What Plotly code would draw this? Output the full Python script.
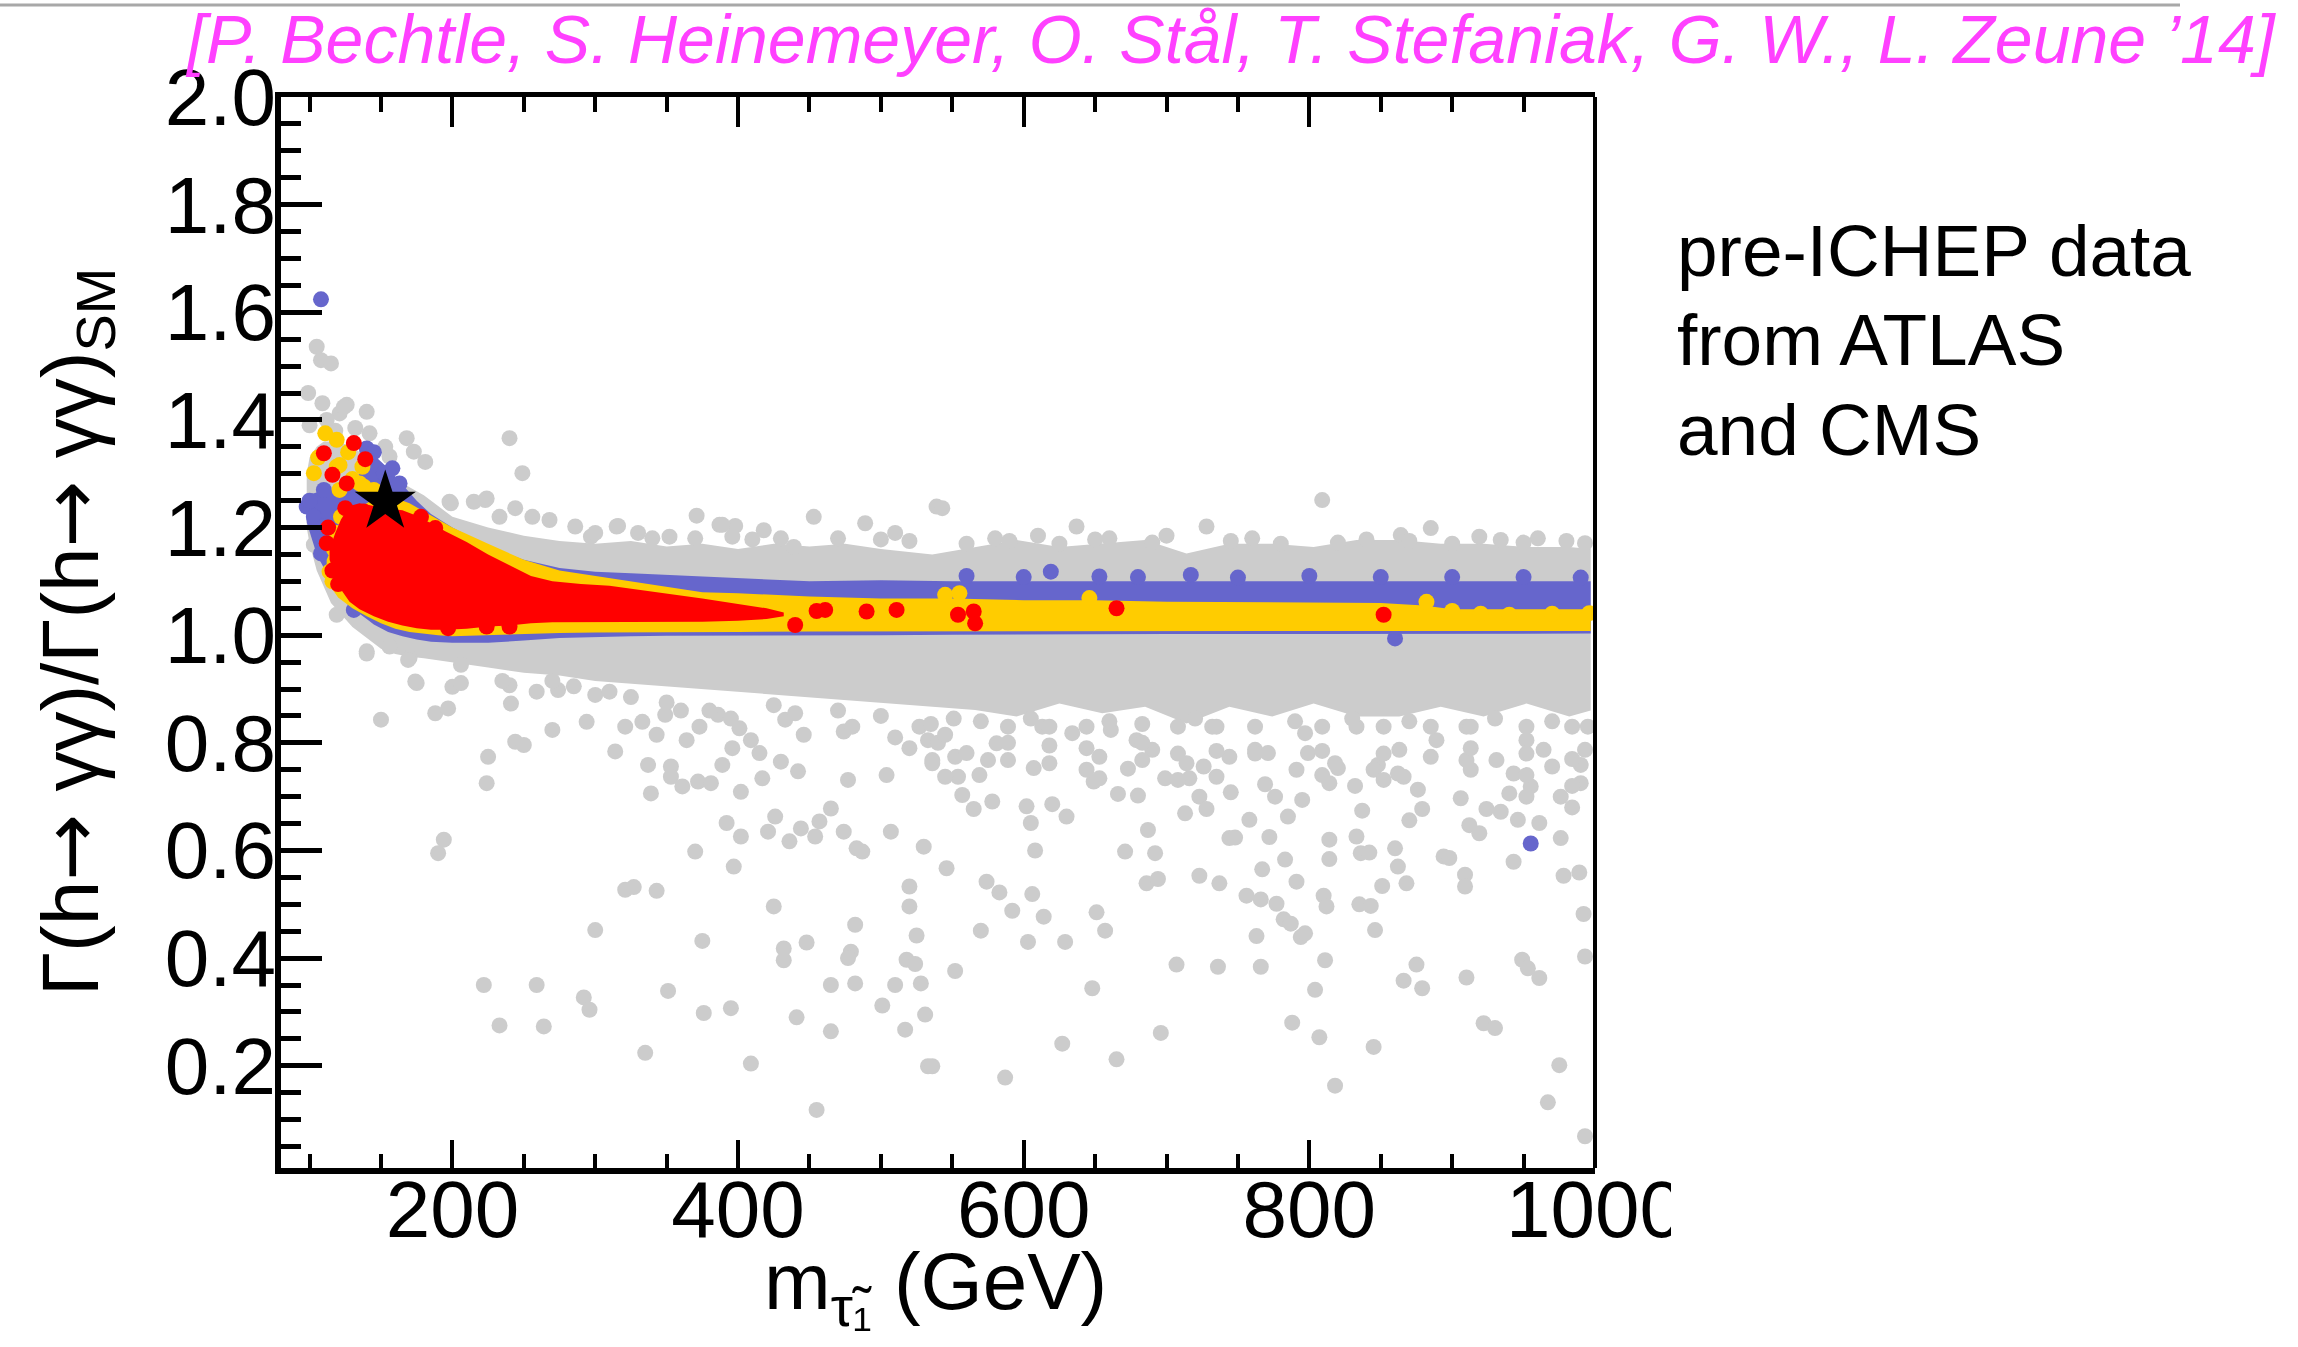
import plotly.graph_objects as go

W, H = 2298, 1347
L, R, T, B = 281, 1595, 97, 1168


def px(xp):
    return (xp - L) / (R - L)


def py(yp):
    return (B - yp) / (B - T)


# ---------------- axis ticks ----------------
x_ticks = [200, 400, 600, 800, 1000]
x_tick_labels = ["200", "400", "600", "800", "1000"]
x_minor = [100, 150, 250, 300, 350, 450, 500, 550, 650, 700, 750, 850, 900, 950]
y_ticks = [0.2, 0.4, 0.6, 0.8, 1.0, 1.2, 1.4, 1.6, 1.8, 2.0]
y_tick_labels = ["0.2", "0.4", "0.6", "0.8", "1.0", "1.2", "1.4", "1.6", "1.8", "2.0"]
y_minor = [0.05, 0.1, 0.15, 0.25, 0.3, 0.35, 0.45, 0.5, 0.55, 0.65, 0.7, 0.75,
           0.85, 0.9, 0.95, 1.05, 1.1, 1.15, 1.25, 1.3, 1.35, 1.45, 1.5, 1.55,
           1.65, 1.7, 1.75, 1.85, 1.9, 1.95]

# ---------------- dense regions (envelopes) ----------------
gray_band_x = [98, 100, 105, 110, 115, 120, 125, 130, 140, 150, 160, 170, 180, 190, 200, 225, 250, 275, 300,
               325, 350, 375, 400, 425, 450, 475, 500, 536, 566, 595, 625, 655, 685, 714, 744, 774, 803, 833,
               863, 892, 922, 952, 982, 997]
gray_band_hi = [1.30, 1.33, 1.35, 1.36, 1.36, 1.36, 1.355, 1.35, 1.33, 1.31, 1.29, 1.275, 1.26, 1.24, 1.22,
                1.20, 1.185, 1.175, 1.17, 1.175, 1.165, 1.17, 1.16, 1.17, 1.165, 1.17, 1.16, 1.15, 1.164,
                1.177, 1.164, 1.17, 1.177, 1.152, 1.17, 1.17, 1.164, 1.177, 1.177, 1.17, 1.17, 1.164, 1.164,
                1.16]
gray_band_lo = [1.20, 1.17, 1.12, 1.09, 1.06, 1.045, 1.03, 1.015, 0.995, 0.975, 0.965, 0.96, 0.957, 0.953, 0.95,
                0.94, 0.93, 0.925, 0.915, 0.91, 0.905, 0.90, 0.895, 0.89, 0.885, 0.88, 0.875, 0.867, 0.861,
                0.849, 0.873, 0.855, 0.867, 0.836, 0.867, 0.849, 0.873, 0.849, 0.849, 0.867, 0.849, 0.873,
                0.849, 0.86]

blue_band_x = [98, 105, 115, 125, 135, 140, 145, 155, 165, 175, 185, 200, 225, 250, 275, 300, 325,
               350, 400, 450, 500, 550, 600, 700, 800, 900, 997]
blue_band_hi = [1.26, 1.265, 1.27, 1.28, 1.30, 1.33, 1.335, 1.31, 1.28, 1.25, 1.225, 1.20, 1.165,
                1.14, 1.125, 1.118, 1.115, 1.112, 1.105, 1.10, 1.102, 1.10, 1.10, 1.10, 1.10, 1.10, 1.10]
blue_band_lo = [1.21, 1.15, 1.10, 1.065, 1.04, 1.03, 1.02, 1.006, 0.998, 0.992, 0.988, 0.986, 0.986,
                0.99, 0.995, 0.997, 0.998, 0.999, 1.0, 1.0, 1.0, 1.001, 1.002, 1.002, 1.002, 1.002, 1.003]

yellow_band_x = [112, 120, 130, 140, 150, 160, 170, 180, 190, 200, 225, 250, 275, 300, 325, 350, 375, 400, 450,
                 500, 550, 600, 650, 700, 800, 850, 880, 900, 950, 997]
yellow_band_hi = [1.14, 1.19, 1.22, 1.245, 1.26, 1.255, 1.245, 1.23, 1.215, 1.20, 1.17, 1.14, 1.12, 1.11, 1.10,
                  1.09, 1.08, 1.078, 1.072, 1.068, 1.068, 1.065, 1.065, 1.062, 1.06, 1.06, 1.055, 1.048, 1.048,
                  1.048]
yellow_band_lo = [1.10, 1.07, 1.05, 1.035, 1.022, 1.012, 1.006, 1.003, 1.0, 0.998, 0.999, 1.002, 1.004, 1.005,
                  1.005, 1.006, 1.006, 1.006, 1.007, 1.007, 1.008, 1.008, 1.008, 1.008, 1.008, 1.008, 1.008,
                  1.008, 1.008, 1.008]

red_band_x = [114, 118, 122, 128, 135, 145, 155, 165, 175, 185, 195, 210, 225, 240, 255, 270, 290, 310, 330,
              350, 375, 400, 420, 432]
red_band_hi = [1.16, 1.19, 1.215, 1.24, 1.245, 1.24, 1.235, 1.232, 1.222, 1.208, 1.193, 1.173, 1.15, 1.13, 1.11,
               1.10, 1.095, 1.092, 1.085, 1.078, 1.068, 1.058, 1.05, 1.042]
red_band_lo = [1.14, 1.11, 1.085, 1.062, 1.048, 1.035, 1.025, 1.018, 1.013, 1.01, 1.01, 1.012, 1.016, 1.018,
               1.022, 1.024, 1.025, 1.025, 1.025, 1.025, 1.025, 1.027, 1.03, 1.035]

# ---------------- individual points ----------------
gray_x = [
    105, 108, 115, 99, 109, 126, 121, 140, 142, 153, 156, 168, 173, 181, 240, 249, 198, 215, 223, 244,
    371, 387, 316, 398, 103, 119, 140, 156, 175, 170, 124, 118, 100, 132, 112,
    286, 315, 297, 330, 352, 389, 396, 418, 439, 453, 489, 510, 539, 268, 256, 233, 224, 199,
    543, 637, 728, 809, 885, 864, 919, 934, 993, 580, 610, 660, 700, 760, 840, 960,
    560, 590, 625, 650, 690, 745, 780, 820, 870, 900, 950, 980, 300, 340, 370, 410, 430, 470, 500, 520,
    140, 169, 174, 150, 188, 197, 200, 206, 206, 225, 224, 240, 241, 244, 250, 259, 270, 274, 294, 300,
    314, 321, 333, 337, 339, 343, 349, 353, 353, 361, 364, 372, 373, 381, 386, 389, 392, 396, 401, 402,
    402, 397, 409, 415, 417, 421, 426, 430, 433, 436, 442, 444, 446, 454, 457, 465, 474, 474, 477, 483,
    487, 504, 507, 527, 530, 533, 536, 190, 194, 370, 321, 327, 343, 300, 375, 425, 432, 432, 448, 482,
    479, 477, 520, 520, 525, 518, 524, 222, 259, 292, 296, 351, 376, 395, 441, 465, 482, 510, 528, 501,
    531, 465, 517, 233, 264, 335, 409, 533, 455,
    235, 270, 285, 310, 325, 350, 360, 380, 395, 425, 440, 470, 480, 500, 510, 520, 540, 535,
    545, 552, 560, 569, 554, 557, 565, 578, 575, 602, 605, 607, 620, 630, 608, 546, 574, 583, 606, 592,
    614, 570, 603, 629, 651, 657, 552, 648, 649, 653, 666, 680, 673, 687, 671, 692, 686, 694, 699, 716,
    713, 723, 728, 723, 737, 707, 736, 696, 627, 665, 587, 536, 745, 744, 748, 758, 756, 766, 767, 763,
    766, 769, 776, 772, 777, 783, 782, 787, 785, 791, 791, 795, 794, 797, 788, 804, 807, 810, 812, 811,
    814, 814, 814, 818, 820, 832, 833, 836, 842, 835, 843, 837, 846, 845, 848, 851, 860, 862, 862, 868,
    870, 876, 879, 875, 866, 879, 894, 898, 909, 909, 910, 912, 906, 919, 922, 930, 924, 934, 943, 946,
    949, 953, 961, 961, 976, 978, 989, 992, 993, 975, 967, 993, 976, 990, 955, 940,
    536, 634, 653, 679, 690, 714, 726, 744, 762, 771, 799, 818, 845, 863, 866, 889, 910, 931, 943, 964,
    970, 990, 993, 952, 910, 833, 797, 732, 661, 613, 545, 581,
    551, 589, 589, 589, 618, 618, 618, 644, 644, 644, 683, 683, 683, 708, 708, 708, 735, 735, 735, 762,
    762, 809, 809, 809, 852, 852, 852, 885, 885, 913, 913, 913, 952, 952, 952, 952, 984, 984, 984, 984,
    570, 605, 660, 720, 790, 830, 870, 930, 970, 995,
]
gray_y = [
    1.536, 1.511, 1.505, 1.45, 1.431, 1.428, 1.412, 1.415, 1.375, 1.35, 1.332, 1.366, 1.341, 1.322, 1.366,
    1.301, 1.248, 1.248, 1.251, 1.236, 1.222, 1.205, 1.203, 1.203, 1.168, 1.038, 0.97, 0.979, 0.911, 0.958,
    1.424, 1.38, 1.39, 1.385, 1.40,
    1.202, 1.202, 1.183, 1.19, 1.183, 1.205, 1.183, 1.195, 1.164, 1.22, 1.208, 1.19, 1.239, 1.214, 1.22,
    1.22, 1.254, 1.245,
    1.236, 1.202, 1.202, 1.251, 1.199, 1.186, 1.183, 1.177, 1.171, 1.18, 1.185, 1.18, 1.185, 1.18, 1.178,
    1.18,
    1.17, 1.175, 1.17, 1.178, 1.172, 1.175, 1.17, 1.172, 1.175, 1.17, 1.172, 1.175, 1.19, 1.18, 1.18, 1.178,
    1.18, 1.18, 1.178, 1.175,
    0.966, 0.954, 0.914, 0.843, 0.855, 0.864, 0.904, 0.911, 0.945, 0.774, 0.725, 0.907, 0.873, 0.802, 0.796,
    0.895, 0.824, 0.898, 0.839, 0.889, 0.784, 0.830, 0.839, 0.759, 0.706, 0.815, 0.852, 0.756, 0.737, 0.719,
    0.805, 0.728, 0.830, 0.725, 0.852, 0.759, 0.651, 0.790, 0.827, 0.709, 0.626, 0.570, 0.805, 0.781, 0.734,
    0.635, 0.663, 0.765, 0.843, 0.617, 0.747, 0.641, 0.815, 0.626, 0.654, 0.678, 0.821, 0.635, 0.731, 0.604,
    0.598, 0.740, 0.635, 0.830, 0.607, 0.805, 0.768, 0.595, 0.620, 0.598, 0.527, 0.532, 0.525, 0.452, 0.432,
    0.496, 0.418, 0.396, 0.429, 0.462, 0.412, 0.400, 0.533, 0.496, 0.442, 0.397, 0.389, 0.350, 0.350, 0.327,
    0.304, 0.339, 0.298, 0.307, 0.290, 0.350, 0.353, 0.350, 0.353, 0.312, 0.295, 0.264, 0.267, 0.275, 0.273,
    0.224, 0.204, 0.199, 0.118,
    0.915, 0.915, 0.905, 0.895, 0.885, 0.875, 0.86, 0.86, 0.845, 0.87, 0.855, 0.86, 0.83, 0.85, 0.81, 0.79,
    0.80, 0.835,
    0.815, 0.774, 0.781, 0.740, 0.737, 0.703, 0.677, 0.691, 0.768, 0.682, 0.651, 0.753, 0.686, 0.663, 0.600,
    0.567, 0.542, 0.522, 0.519, 0.488, 0.477, 0.451, 0.430, 0.430, 0.485, 0.451, 0.376, 0.344, 0.728, 0.734,
    0.705, 0.702, 0.752, 0.638, 0.598, 0.595, 0.539, 0.547, 0.734, 0.734, 0.669, 0.700, 0.677, 0.553, 0.539,
    0.388, 0.384, 0.261, 0.241, 0.212, 0.178, 0.199, 0.708, 0.623, 0.624, 0.657, 0.516, 0.509, 0.565, 0.441,
    0.384, 0.723, 0.700, 0.625, 0.501, 0.583, 0.472, 0.464, 0.663, 0.542, 0.750, 0.694, 0.439, 0.446, 0.280,
    0.341, 0.253, 0.516, 0.496, 0.396, 0.620, 0.584, 0.725, 0.163, 0.753, 0.720, 0.626, 0.595, 0.596, 0.500,
    0.497, 0.674, 0.452, 0.235, 0.759, 0.534, 0.604, 0.570, 0.743, 0.539, 0.656, 0.713, 0.677, 0.388, 0.358,
    0.344, 0.589, 0.586, 0.555, 0.533, 0.364, 0.647, 0.697, 0.632, 0.279, 0.270, 0.677, 0.672, 0.579, 0.657,
    0.397, 0.381, 0.363, 0.651, 0.623, 0.553, 0.559, 0.482, 0.403, 0.201, 0.132, 0.069, 0.700, 0.725, 0.719,
    0.706,
    0.762, 0.818, 0.774, 0.805, 0.787, 0.762, 0.756, 0.774, 0.787, 0.781, 0.781, 0.762, 0.750, 0.787, 0.737,
    0.805, 0.768, 0.768, 0.743, 0.787, 0.756, 0.759, 0.787, 0.805, 0.830, 0.830, 0.818, 0.830, 0.824, 0.830,
    0.737, 0.799,
    0.845, 0.83, 0.80, 0.768, 0.83, 0.795, 0.762, 0.83, 0.79, 0.75, 0.835, 0.80, 0.768, 0.83, 0.78, 0.731,
    0.83, 0.785, 0.737, 0.83, 0.78, 0.83, 0.785, 0.74, 0.83, 0.78, 0.731, 0.83, 0.774, 0.83, 0.79, 0.75,
    0.83, 0.78, 0.74, 0.70, 0.83, 0.77, 0.72, 0.68,
    0.84, 0.845, 0.84, 0.845, 0.84, 0.845, 0.84, 0.845, 0.84, 0.83,
]

blue_x = [108, 955, 860, 140, 110, 98, 103, 110, 108, 152, 163, 619, 653, 717, 560, 600, 680, 750, 800, 850,
          900, 950, 990, 124, 131, 100, 145, 158]
blue_y = [1.624, 0.613, 0.994, 1.347, 1.27, 1.239, 1.22, 1.202, 1.152, 1.301, 1.282, 1.118, 1.109, 1.112, 1.11,
          1.108, 1.108, 1.107, 1.11, 1.108, 1.108, 1.108, 1.107, 1.09, 1.047, 1.25, 1.34, 1.31]

yellow_x = [111, 119, 103, 121, 137, 138, 114, 116, 882, 900, 920, 940, 970, 996, 646, 545, 555, 130, 145,
            135, 119, 121, 122, 119, 117, 131, 106, 127]
yellow_y = [1.375, 1.363, 1.301, 1.316, 1.313, 1.276, 1.118, 1.10, 1.062, 1.045, 1.04, 1.038, 1.04, 1.041,
            1.069, 1.075, 1.078, 1.29, 1.27, 1.282, 1.313, 1.27, 1.22, 1.19, 1.16, 1.146, 1.33, 1.34]

red_x = [131, 110, 139, 116, 126, 125, 138, 112, 178, 188, 224, 240, 197, 440, 455, 461, 490, 511, 554, 565,
         566, 665, 852, 116, 120, 113, 128]
red_y = [1.357, 1.338, 1.327, 1.298, 1.282, 1.236, 1.23, 1.171, 1.22, 1.199, 1.016, 1.016, 1.013, 1.019,
         1.045, 1.047, 1.044, 1.047, 1.038, 1.044, 1.022, 1.050, 1.038, 1.12, 1.095, 1.20, 1.177]

star_x = [153]
star_y = [1.248]

GRAY = "#cccccc"
BLUE = "#6666cc"
YELLOW = "#ffcc00"
RED = "#ff0000"
DOT = 16

fig = go.Figure()


def band(x, lo, hi, color):
    fig.add_trace(go.Scatter(x=x + x[::-1], y=hi + lo[::-1], mode="lines", fill="toself",
                             fillcolor=color, line=dict(width=0, color=color),
                             hoverinfo="skip", showlegend=False))


def dots(x, y, color, size=DOT, symbol="circle"):
    fig.add_trace(go.Scatter(x=x, y=y, mode="markers",
                             marker=dict(color=color, size=size, symbol=symbol, line=dict(width=0)),
                             hoverinfo="skip", showlegend=False))


band(gray_band_x, gray_band_lo, gray_band_hi, GRAY)
dots(gray_x, gray_y, GRAY)
band(blue_band_x, blue_band_lo, blue_band_hi, BLUE)
dots(blue_x, blue_y, BLUE)
band(yellow_band_x, yellow_band_lo, yellow_band_hi, YELLOW)
dots(yellow_x, yellow_y, YELLOW)
band(red_band_x, red_band_lo, red_band_hi, RED)
dots(red_x, red_y, RED)
dots(star_x, star_y, "black", size=46, symbol="star")

# invisible trace to carry the top axis (tick marks only)
fig.add_trace(go.Scatter(x=gray_x, y=gray_y, xaxis="x2", mode="markers",
                         marker=dict(opacity=0), hoverinfo="skip", showlegend=False))

FONT = "Liberation Sans, Arial, Helvetica, sans-serif"
tickfont = dict(family=FONT, size=80, color="black")

fig.update_layout(
    width=W, height=H,
    margin=dict(l=L, r=W - R, t=T, b=H - B, pad=0),
    paper_bgcolor="white", plot_bgcolor="white",
    showlegend=False,
    xaxis=dict(range=[80, 1000], tickmode="array", tickvals=x_ticks, ticktext=x_tick_labels,
               ticks="inside", ticklen=28, tickwidth=4, tickcolor="black", ticklabelstandoff=-33,
               showline=True, linewidth=6, linecolor="black", showgrid=False, zeroline=False,
               tickfont=tickfont,
               minor=dict(tickmode="array", tickvals=x_minor, ticks="inside", ticklen=14,
                          tickwidth=4, tickcolor="black", showgrid=False)),
    xaxis2=dict(range=[80, 1000], overlaying="x", side="top", matches="x",
                tickmode="array", tickvals=x_ticks, showticklabels=False,
                ticks="inside", ticklen=30, tickwidth=4, tickcolor="black",
                showline=True, linewidth=5, linecolor="black", showgrid=False, zeroline=False,
                minor=dict(tickmode="array", tickvals=x_minor, ticks="inside", ticklen=15,
                           tickwidth=4, tickcolor="black", showgrid=False)),
    yaxis=dict(range=[0.01, 2.0], tickmode="array", tickvals=y_ticks, ticktext=y_tick_labels,
               ticks="inside", ticklen=41, tickwidth=5, tickcolor="black", ticklabelstandoff=-17,
               showline=True, linewidth=6, linecolor="black", showgrid=False, zeroline=False,
               tickfont=tickfont,
               minor=dict(tickmode="array", tickvals=y_minor, ticks="inside", ticklen=20,
                          tickwidth=5, tickcolor="black", showgrid=False)),
)

# right frame line
fig.add_shape(type="line", xref="paper", yref="paper", x0=1, x1=1, y0=0, y1=1,
              line=dict(color="black", width=4))
# thin gray rule at the very top of the slide
fig.add_shape(type="line", xref="paper", yref="paper", x0=px(0), x1=px(2180), y0=py(5), y1=py(5),
              line=dict(color="#a8a8a8", width=3))
# the slide crops the last digit of the "1000" label
fig.add_shape(type="rect", xref="paper", yref="paper", x0=px(1671), x1=px(1730), y0=py(1262), y1=py(1178),
              fillcolor="white", line=dict(width=0), layer="above")

ARROW = "<span style='font-family:DejaVu Sans'>→</span>"

# axis titles
fig.add_annotation(text="Γ(h" + ARROW + " γγ)/Γ(h" + ARROW + " γγ)<sub>SM</sub>", xref="paper", yref="paper",
                   x=px(75), y=py(632), xanchor="center", yanchor="middle", textangle=-90,
                   showarrow=False, font=dict(family=FONT, size=80, color="black"))
fig.add_annotation(text="m<sub>τ̃₁</sub> (GeV)", xref="paper", yref="paper",
                   x=px(935), y=py(1287), xanchor="center", yanchor="middle",
                   showarrow=False, font=dict(family=FONT, size=80, color="black"))

# citation
fig.add_annotation(text="[P. Bechtle, S. Heinemeyer, O. Stål, T. Stefaniak, G. W., L. Zeune ’14]",
                   xref="paper", yref="paper", x=px(183), y=py(39), xanchor="left", yanchor="middle",
                   showarrow=False, font=dict(family=FONT, size=68, color="#ff40ff", style="italic"))

# side note
for i, line in enumerate(["pre-ICHEP data", "from ATLAS", "and CMS"]):
    fig.add_annotation(text=line, xref="paper", yref="paper", x=px(1675), y=py(250 + 89.5 * i),
                       xanchor="left", yanchor="middle", showarrow=False,
                       font=dict(family=FONT, size=73, color="black"))

fig.write_html("out.html")
